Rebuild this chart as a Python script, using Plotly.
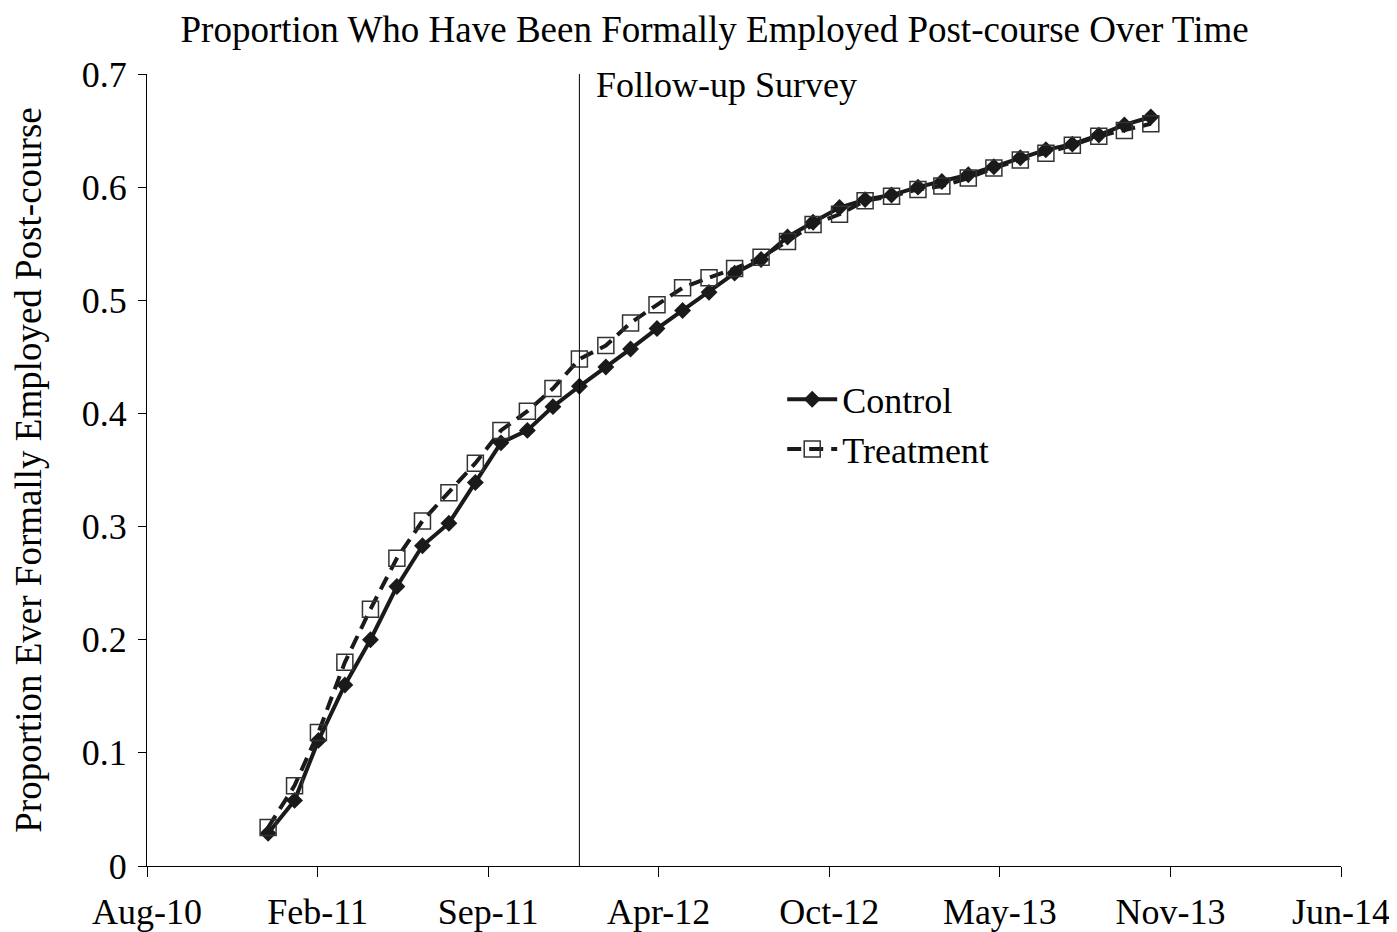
import pandas as pd
import plotly.graph_objects as go

# monthly observation dates (Jan 2011 - Nov 2013)
months = pd.date_range("2011-01-01", periods=35, freq="MS")

control = [0.029, 0.058, 0.111, 0.160, 0.200, 0.247, 0.283, 0.303, 0.339, 0.374,
           0.385, 0.406, 0.424, 0.441, 0.457, 0.475, 0.491, 0.507, 0.524, 0.536,
           0.556, 0.569, 0.582, 0.589, 0.593, 0.600, 0.605, 0.611, 0.618, 0.626,
           0.633, 0.638, 0.646, 0.655, 0.662]

treatment = [0.034, 0.071, 0.118, 0.180, 0.227, 0.272, 0.305, 0.330, 0.356, 0.385,
             0.402, 0.422, 0.448, 0.460, 0.480, 0.496, 0.511, 0.520, 0.528, 0.538,
             0.552, 0.567, 0.576, 0.588, 0.592, 0.598, 0.601, 0.608, 0.617, 0.624,
             0.630, 0.637, 0.645, 0.650, 0.656]

followup_date = "2012-01-01"

# Excel-style date axis: major unit of 200 days
axis_start = pd.Timestamp("2010-08-12")
tick_labels = ["Aug-10", "Feb-11", "Sep-11", "Apr-12", "Oct-12", "May-13", "Nov-13", "Jun-14"]
tick_vals = [axis_start + pd.Timedelta(days=200 * i) for i in range(len(tick_labels))]

FONT = "Liberation Serif, Times New Roman, serif"
INK = "#1a1a1a"
FS = 36

fig = go.Figure()

fig.add_trace(go.Scatter(
    x=months, y=control, name="Control",
    mode="lines+markers",
    line=dict(color=INK, width=4),
    marker=dict(symbol="diamond", size=13, color=INK),
))
fig.add_trace(go.Scatter(
    x=months, y=treatment, name="Treatment",
    mode="lines+markers",
    line=dict(color=INK, width=4, dash="14px,8px"),
    marker=dict(symbol="square-open", size=16, color="#333333", line=dict(width=1.5)),
))

fig.add_shape(type="line", xref="x", yref="y",
              x0=followup_date, x1=followup_date, y0=0, y1=0.7,
              line=dict(color="black", width=1))
fig.add_annotation(x=followup_date, y=0.7, xref="x", yref="y",
                   text="Follow-up Survey", showarrow=False,
                   xanchor="left", yanchor="middle", xshift=15, yshift=-11,
                   font=dict(size=FS, family=FONT, color="black"))

fig.update_layout(
    width=1389, height=924,
    title=dict(text="Proportion Who Have Been Formally Employed Post-course Over Time",
               x=0.5087, xanchor="center", y=0.977, yanchor="middle",
               font=dict(size=37, family=FONT, color="black")),
    plot_bgcolor="white", paper_bgcolor="white",
    margin=dict(l=139, r=56, t=66, b=66),
    font=dict(family=FONT, color="black", size=FS),
    legend=dict(x=0.532, y=0.627, xanchor="left", yanchor="top",
                font=dict(size=FS, family=FONT, color="black"),
                bgcolor="rgba(0,0,0,0)", itemwidth=50),
    showlegend=True,
)

fig.update_xaxes(
    type="date", automargin=False,
    range=[tick_vals[0], tick_vals[-1]],
    tickvals=tick_vals, ticktext=tick_labels,
    showgrid=False, zeroline=False,
    showline=True, linecolor="black", linewidth=1,
    ticks="outside", ticklen=10, tickcolor="black", ticklabelstandoff=4,
    tickfont=dict(size=FS, family=FONT, color="black"),
)
fig.update_yaxes(
    automargin=False,
    range=[0, 0.7], tickvals=[0, 0.1, 0.2, 0.3, 0.4, 0.5, 0.6, 0.7],
    ticktext=["0", "0.1", "0.2", "0.3", "0.4", "0.5", "0.6", "0.7"],
    showgrid=False, zeroline=False,
    showline=True, linecolor="black", linewidth=1,
    ticks="outside", ticklen=8, tickcolor="black", ticklabelstandoff=4,
    tickfont=dict(size=FS, family=FONT, color="black"),
    title=dict(text="Proportion Ever Formally Employed Post-course",
               font=dict(size=37, family=FONT, color="black"), standoff=33),
)

fig.write_html("out.html")
